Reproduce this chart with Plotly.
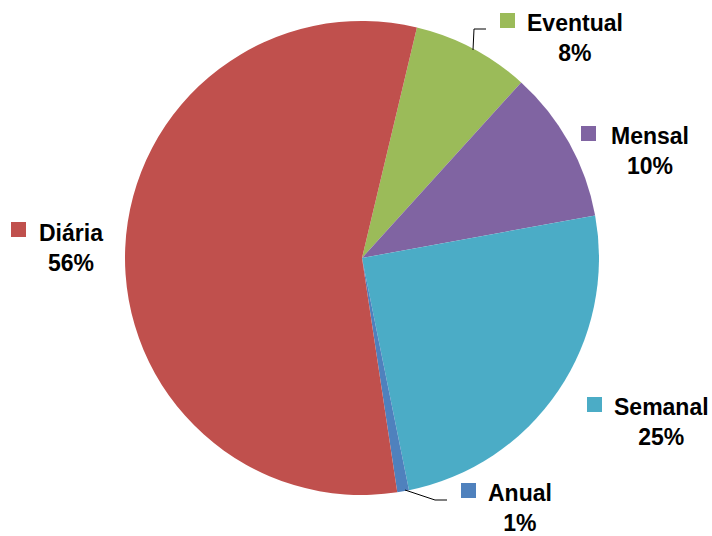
import plotly.graph_objects as go

# Data
categories = ["Eventual", "Mensal", "Semanal", "Anual", "Diária"]
values = [8.0, 10.4, 24.7, 0.8, 56.1]
colors = ["#9BBB59", "#8064A2", "#4BACC6", "#4F81BD", "#C0504D"]

W, H = 712, 536
cx, cy, r = 362, 258, 237

def px(x):
    return x / W

def py(y):
    return 1 - y / H

fig = go.Figure(go.Pie(
    labels=categories,
    values=values,
    marker=dict(colors=colors, line=dict(width=0)),
    sort=False,
    direction="clockwise",
    rotation=13.4,
    textinfo="none",
    hoverinfo="label+percent",
    domain=dict(x=[px(cx - r), px(cx + r)], y=[py(cy + r), py(cy - r)]),
))

total = sum(values)
# label layout: (square left x, square top y, text center x, text first-line center y)
label_pos = {
    "Eventual": (500, 13, 575, 22),
    "Mensal": (581, 126, 650, 135),
    "Semanal": (587, 397, 661, 406),
    "Anual": (461, 483, 520, 492),
    "Diária": (11, 222, 71, 232),
}
font = dict(family="Liberation Sans, Arial, sans-serif", size=23, color="#000000")
annotations = []
shapes = []
for cat, val, col in zip(categories, values, colors):
    sx, sy, tx, ty = label_pos[cat]
    pct = round(val / total * 100)
    annotations.append(dict(
        x=px(tx), y=py(ty - 14), xref="paper", yref="paper",
        xanchor="center", yanchor="top", showarrow=False, align="center",
        text=f"<b>{cat}</b><br><b>{pct}%</b>", font=font,
    ))
    shapes.append(dict(type="rect", xref="paper", yref="paper",
                       x0=px(sx), x1=px(sx + 15), y0=py(sy), y1=py(sy + 15),
                       fillcolor=col, line=dict(width=0)))

# leader lines
shapes.append(dict(type="path", xref="paper", yref="paper",
                   path=f"M {px(473)},{py(50)} L {px(474)},{py(29)} L {px(486)},{py(29)}",
                   line=dict(color="#000000", width=1)))
shapes.append(dict(type="path", xref="paper", yref="paper",
                   path=f"M {px(405)},{py(490)} L {px(435)},{py(500)} L {px(447)},{py(500)}",
                   line=dict(color="#000000", width=1)))

fig.update_layout(
    width=W, height=H,
    margin=dict(l=0, r=0, t=0, b=0),
    paper_bgcolor="white", plot_bgcolor="white",
    showlegend=False,
    annotations=annotations,
    shapes=shapes,
)

fig.write_html("out.html", config={"displayModeBar": False})

# remove default page margin so the figure fills the window exactly
with open("out.html", "r", encoding="utf-8") as f:
    html = f.read()
html = html.replace("<head>", "<head><style>html,body{margin:0;padding:0;overflow:hidden;}</style>", 1)
with open("out.html", "w", encoding="utf-8") as f:
    f.write(html)
